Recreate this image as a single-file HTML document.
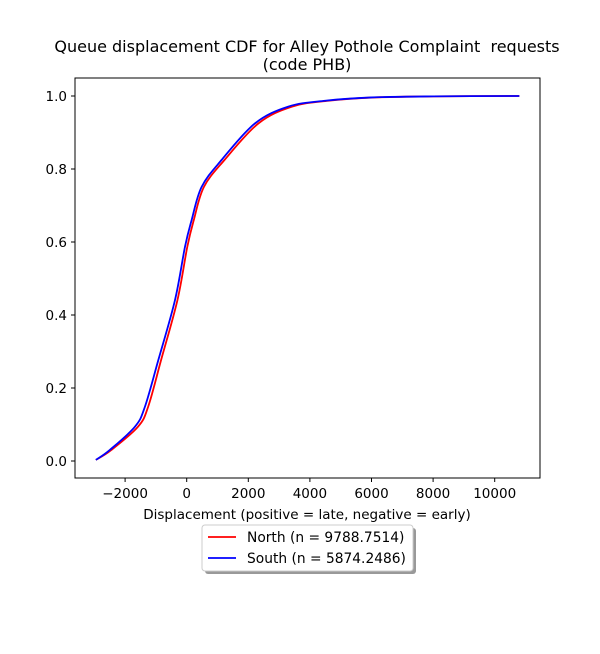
<!DOCTYPE html>
<html><head><meta charset="utf-8"><style>
body{margin:0;background:#fff;font-family:"DejaVu Sans","Liberation Sans",sans-serif;}
svg text{font-family:"DejaVu Sans","Liberation Sans",sans-serif;white-space:pre;}
</style></head><body>
<svg id="c" width="600" height="650" xmlns="http://www.w3.org/2000/svg">
<text x="307" y="52" font-size="16" text-anchor="middle" xml:space="preserve">Queue displacement CDF for Alley Pothole Complaint  requests</text>
<text x="307" y="70" font-size="16" text-anchor="middle">(code PHB)</text>
<g id="plot"></g>
<rect x="75" y="78" width="465" height="400" fill="none" stroke="#000" stroke-width="1"/>
<text x="307" y="519" font-size="13.5" text-anchor="middle">Displacement (positive = late, negative = early)</text>
<g>
<rect x="205" y="528" width="211" height="46" rx="3" fill="#999"/>
<rect x="202" y="525" width="211" height="46" rx="3" fill="#fff" stroke="#ccc"/>
<line x1="208" y1="537" x2="236" y2="537" stroke="red" stroke-width="1.8"/>
<text x="247" y="542" font-size="13.8">North (n = 9788.7514)</text>
<line x1="208" y1="558" x2="236" y2="558" stroke="blue" stroke-width="1.8"/>
<text x="247" y="563" font-size="13.8">South (n = 5874.2486)</text>
</g>
</svg>
<script>
const xTicks=[-2000,0,2000,4000,6000,8000,10000];
const yTicks=[0.0,0.2,0.4,0.6,0.8,1.0];
const cdfLevels=[0.003,0.03,0.094,0.149,0.277,0.441,0.587,0.66,0.751,0.825,0.925,0.971,0.987,0.996,0.999,1.0];
const southX=[-2950,-2500,-1680,-1355,-920,-380,-55,160,485,1135,2218,3300,4490,6000,8000,10800];
const northX=[-2950,-2450,-1580,-1250,-830,-300,20,230,560,1230,2330,3420,4600,6100,8000,10800];
const X=v=>186.7+v*0.0308, Y=v=>461-v*365;
const g=document.getElementById('plot');const NS='http://www.w3.org/2000/svg';
xTicks.forEach(t=>{
const l=document.createElementNS(NS,'line');l.setAttribute('x1',X(t));l.setAttribute('x2',X(t));l.setAttribute('y1',478);l.setAttribute('y2',482);l.setAttribute('stroke','#000');

g.appendChild(l);
const s=document.createElementNS(NS,'text');s.setAttribute('x',X(t));s.setAttribute('y',498);s.setAttribute('font-size','13.5');s.setAttribute('text-anchor','middle');s.textContent=t<0?'\u2212'+(-t):t;

g.appendChild(s);});
yTicks.forEach(t=>{
const l=document.createElementNS(NS,'line');l.setAttribute('x1',71);l.setAttribute('x2',75);l.setAttribute('y1',Y(t));l.setAttribute('y2',Y(t));l.setAttribute('stroke','#000');

g.appendChild(l);
const s=document.createElementNS(NS,'text');s.setAttribute('x',67);s.setAttribute('y',Y(t)+5);s.setAttribute('font-size','13.5');s.setAttribute('text-anchor','end');s.textContent=t.toFixed(1);

g.appendChild(s);});
function curve(xs,col,name){
const p=xs.map((x,i)=>[X(x),Y(cdfLevels[i])]);
let d='M'+p[0][0]+','+p[0][1];
for(let i=0;i<p.length-1;i++){const p0=p[Math.max(0,i-1)],p1=p[i],p2=p[i+1],p3=p[Math.min(p.length-1,i+2)];
d+=' C'+(p1[0]+(p2[0]-p0[0])/6)+','+(p1[1]+(p2[1]-p0[1])/6)+' '+(p2[0]-(p3[0]-p1[0])/6)+','+(p2[1]-(p3[1]-p1[1])/6)+' '+p2[0]+','+p2[1];}
const e=document.createElementNS(NS,'path');e.setAttribute('d',d);e.setAttribute('fill','none');e.setAttribute('stroke',col);e.setAttribute('stroke-width','1.8');

g.appendChild(e);}
curve(northX,'red','north-cdf-line');
curve(southX,'blue','south-cdf-line');
</script>
</body></html>
